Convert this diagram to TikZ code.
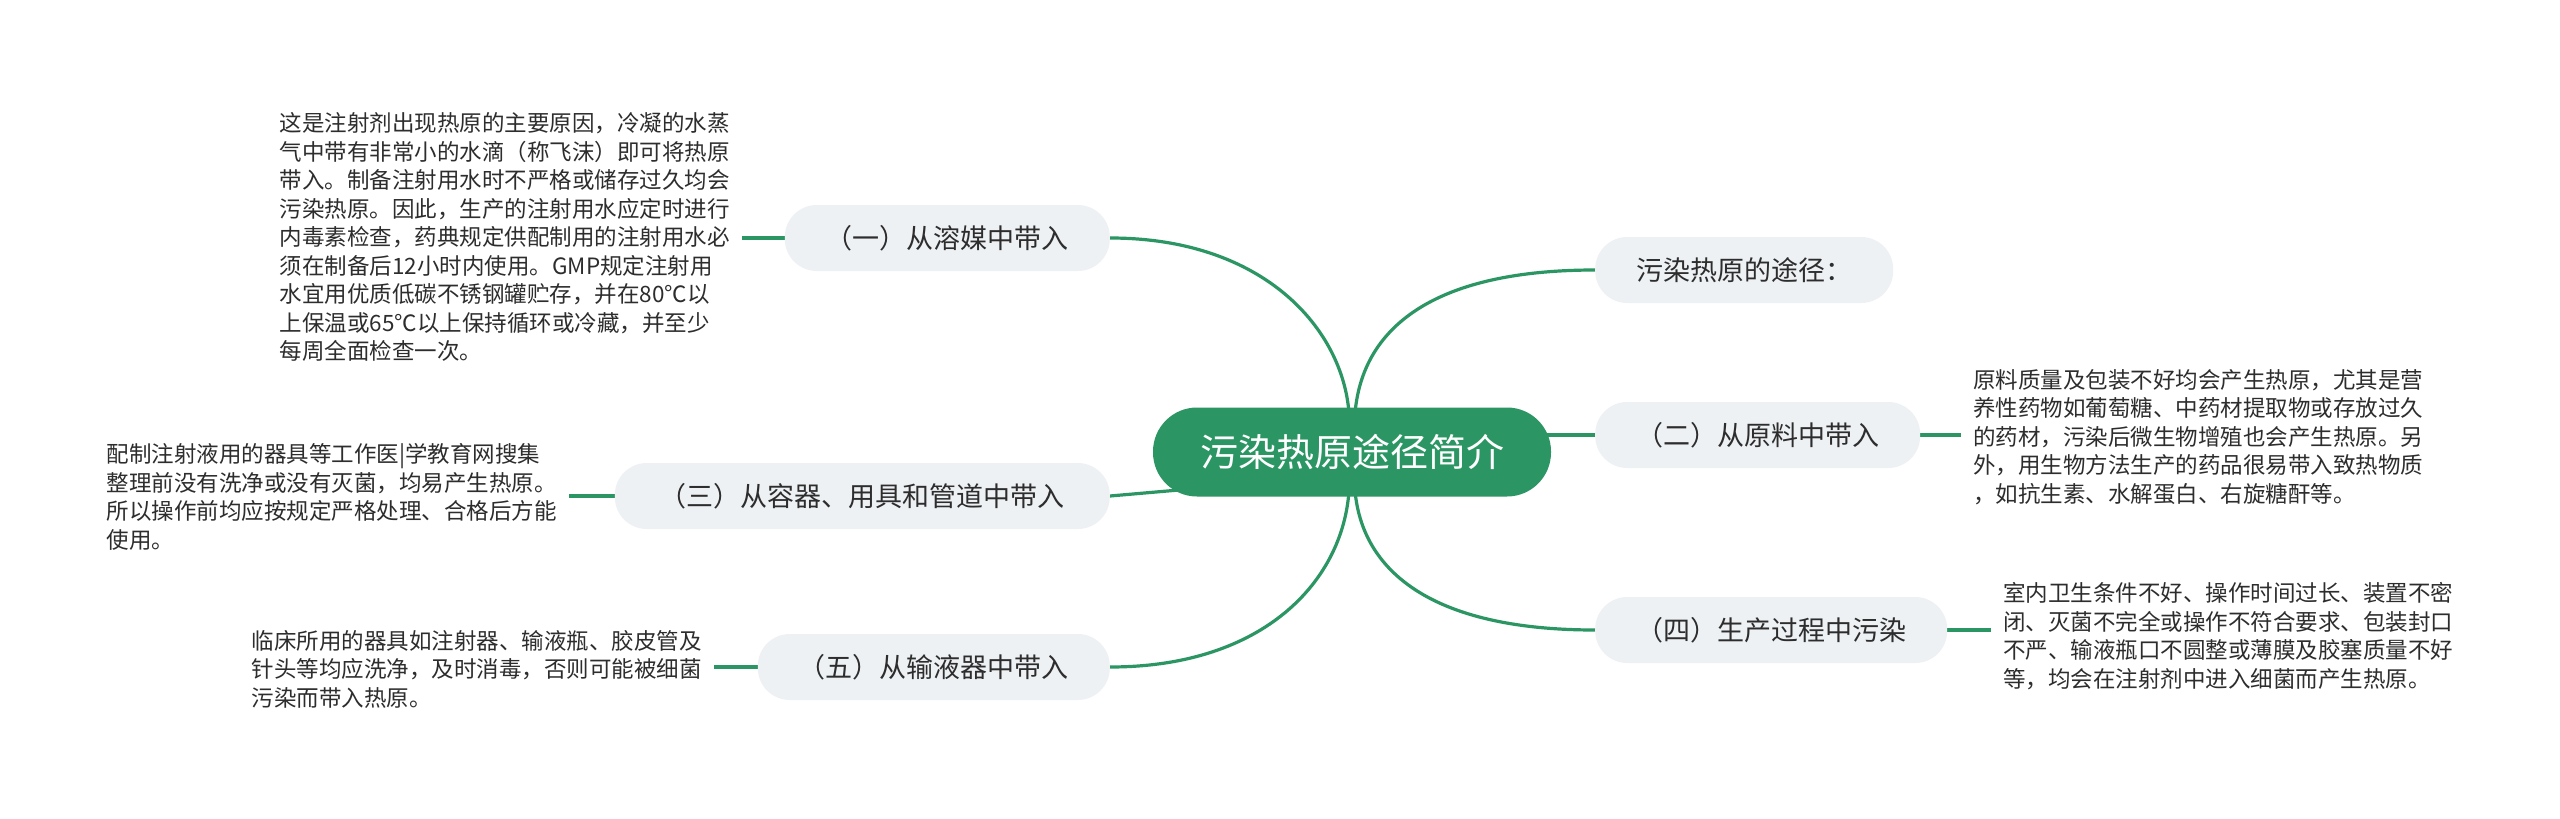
\documentclass[tikz,border=0pt]{standalone}
\usepackage{fontspec}
\setmainfont{Noto Sans CJK SC}
\usetikzlibrary{backgrounds}
\definecolor{mmgreen}{RGB}{43,150,99}
\definecolor{mmgray}{RGB}{238,241,244}
\definecolor{mmtext}{RGB}{45,45,45}
\begin{document}
\begin{tikzpicture}[x=1pt,y=-1pt,
  root/.style={fill=mmgreen, rounded corners=44pt, minimum height=89pt, inner xsep=47pt, inner ysep=0pt,
    font=\fontsize{38}{42}\selectfont, text=white},
  topic/.style={fill=mmgray, rounded corners=32pt, minimum height=66pt, inner xsep=41pt, inner ysep=0pt,
    font=\fontsize{27}{30}\selectfont, text=mmtext},
  note/.style={align=left, inner xsep=12pt, inner ysep=0pt,
    font=\fontsize{22.5}{28.5}\selectfont, text=mmtext},
  conn/.style={draw=mmgreen, line width=3.2pt}]
\useasboundingbox (0,0) rectangle (2560,819);

% nodes
\node[root] (c) at (1352,452) {污染热原途径简介};
\node[topic, anchor=west] (t0) at (1595,270) {污染热原的途径：};
\node[topic, anchor=west] (t2) at (1595,435) {（二）从原料中带入};
\node[topic, anchor=west] (t4) at (1595,630) {（四）生产过程中污染};
\node[topic, anchor=east] (t1) at (1110,238) {（一）从溶媒中带入};
\node[topic, anchor=east, inner xsep=45pt] (t3) at (1110,496) {（三）从容器、用具和管道中带入};
\node[topic, anchor=east] (t5) at (1110,667) {（五）从输液器中带入};

\node[note, anchor=east] (n1) at (742,237) {这是注射剂出现热原的主要原因，冷凝的水蒸\\
气中带有非常小的水滴（称飞沫）即可将热原\\
带入。制备注射用水时不严格或储存过久均会\\
污染热原。因此，生产的注射用水应定时进行\\
内毒素检查，药典规定供配制用的注射用水必\\
须在制备后12小时内使用。GMP规定注射用\\
水宜用优质低碳不锈钢罐贮存，并在80℃以\\
上保温或65℃以上保持循环或冷藏，并至少\\
每周全面检查一次。};
\node[note, anchor=east] (n3) at (569,497) {配制注射液用的器具等工作医|学教育网搜集\\
整理前没有洗净或没有灭菌，均易产生热原。\\
所以操作前均应按规定严格处理、合格后方能\\
使用。};
\node[note, anchor=east] (n5) at (714,669) {临床所用的器具如注射器、输液瓶、胶皮管及\\
针头等均应洗净，及时消毒，否则可能被细菌\\
污染而带入热原。};
\node[note, anchor=west] (n2) at (1961,437) {原料质量及包装不好均会产生热原，尤其是营\\
养性药物如葡萄糖、中药材提取物或存放过久\\
的药材，污染后微生物增殖也会产生热原。另\\
外，用生物方法生产的药品很易带入致热物质\\
，如抗生素、水解蛋白、右旋糖酐等。};
\node[note, anchor=west] (n4) at (1991,636) {室内卫生条件不好、操作时间过长、装置不密\\
闭、灭菌不完全或操作不符合要求、包装封口\\
不严、输液瓶口不圆整或薄膜及胶塞质量不好\\
等，均会在注射剂中进入细菌而产生热原。};

% background and connectors
\begin{scope}[on background layer]
\fill[white] (0,0) rectangle (2560,819);
\draw[conn] ([xshift=3pt,yshift=-6pt]c.north) .. controls (1362,330) and (1430,270) .. (t0.west);
\draw[conn] ([xshift=-3pt,yshift=-6pt]c.north) .. controls (1343,330) and (1265,238) .. (t1.east);
\draw[conn] ([xshift=-3pt,yshift=6pt]c.south) .. controls (1343,580) and (1265,667) .. (t5.east);
\draw[conn] ([xshift=3pt,yshift=6pt]c.south) .. controls (1362,570) and (1430,630) .. (t4.west);
\draw[conn] (t2.west) -- (t2.west -| c.center);
\draw[conn] (t3.east) -- ([shift={(-150pt,-36pt)}]c.center);
\draw[conn] (t1.west) -- (n1.east |- t1.west);
\draw[conn] (t3.west) -- (n3.east |- t3.west);
\draw[conn] (t5.west) -- (n5.east |- t5.west);
\draw[conn] (t2.east) -- (n2.west |- t2.east);
\draw[conn] (t4.east) -- (n4.west |- t4.east);
\end{scope}
\end{tikzpicture}
\end{document}
